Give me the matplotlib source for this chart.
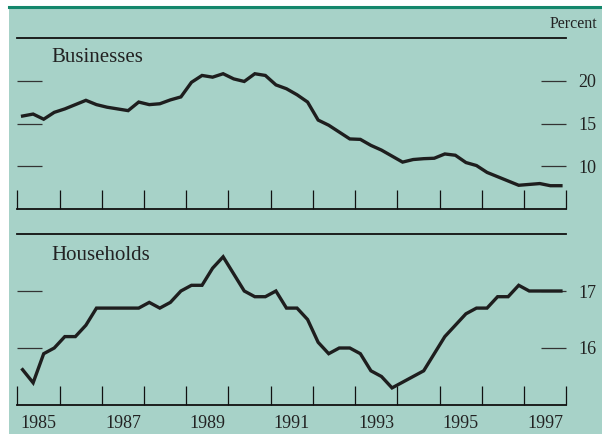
import matplotlib
matplotlib.use('Agg')
import matplotlib.pyplot as plt
from matplotlib.patches import Rectangle
from matplotlib.lines import Line2D
import numpy as np

# quarterly observations, 1985:Q1 - 1997:Q4 (plotted at mid-quarter)
quarters = np.arange(1985, 1998, 0.25) + 0.125

businesses = [15.87, 16.1, 15.5, 16.3, 16.7, 17.2, 17.7, 17.2, 16.9, 16.7, 16.5, 17.5, 17.2,
              17.3, 17.75, 18.1, 19.8, 20.6, 20.4, 20.8, 20.2, 19.9, 20.8, 20.6, 19.5, 19.05,
              18.35, 17.5, 15.4, 14.8, 14.0, 13.2, 13.15, 12.45, 11.9, 11.2, 10.5, 10.8, 10.9,
              10.95, 11.45, 11.3, 10.45, 10.1, 9.3, 8.8, 8.3, 7.8, 7.9, 8.0, 7.75, 7.75]

households = [15.62, 15.39, 15.9, 16.0, 16.2, 16.2, 16.4, 16.7, 16.7, 16.7, 16.7, 16.7, 16.8,
              16.7, 16.8, 17.0, 17.1, 17.1, 17.4, 17.6, 17.3, 17.0, 16.9, 16.9, 17.0, 16.7,
              16.7, 16.5, 16.1, 15.9, 16.0, 16.0, 15.9, 15.6, 15.5, 15.3, 15.4, 15.5, 15.6,
              15.9, 16.2, 16.4, 16.6, 16.7, 16.7, 16.9, 16.9, 17.1, 17.0, 17.0, 17.0, 17.0]

year_ticks = list(range(1985, 1999))
year_labels = ['1985', '1987', '1989', '1991', '1993', '1995', '1997']
bus_ticks = [10, 15, 20]
hh_ticks = [16, 17]

plt.rcParams['font.family'] = ['Liberation Serif', 'DejaVu Serif']

W, H = 602, 434
bg = '#a7d2c8'
ink = '#222222'

fig = plt.figure(figsize=(W / 100, H / 100), dpi=100, facecolor=bg)

# white margins on the left and top, green rule at the top
fig.patches.append(Rectangle((0, 0), 9 / W, 1, transform=fig.transFigure,
                             facecolor='white', edgecolor='none', zorder=-1))
fig.patches.append(Rectangle((0, 1 - 6 / H), 1, 6 / H, transform=fig.transFigure,
                             facecolor='white', edgecolor='none', zorder=-1))
fig.lines.append(Line2D([9 / W, 1], [1 - 7 / H, 1 - 7 / H], transform=fig.transFigure,
                        color='#14876c', linewidth=2.2))


def make_panel(top, bottom, values, ylim, yticks, title, title_base, show_years):
    ax = fig.add_axes([17.3 / W, 1 - bottom / H, (566.2 - 17.3) / W, (bottom - top) / H])
    ax.set_facecolor('none')
    ax.plot(quarters, values, color='#1e1e1e', linewidth=2.4, solid_joinstyle='miter')
    ax.set_xlim(1985, 1998)
    ax.set_ylim(*ylim)
    for side in ['left', 'right']:
        ax.spines[side].set_visible(False)
    for side in ['top', 'bottom']:
        ax.spines[side].set_color('#111111')
        ax.spines[side].set_linewidth(1.3)
    ax.set_xticks(year_ticks)
    ax.set_xticklabels([])
    ax.tick_params(axis='x', which='major', direction='in', length=14, width=0.9,
                   color='#111111', top=False)
    if show_years:
        ax.set_xticks([int(y) + 0.5 for y in year_labels], minor=True)
        ax.set_xticklabels(year_labels, minor=True)
        ax.tick_params(axis='x', which='minor', length=0, pad=7, labelsize=13,
                       labelcolor=ink)
    ax.set_yticks(yticks)
    ax.tick_params(axis='y', direction='in', length=18, width=0.9, color='#333333',
                   left=True, right=True, labelleft=False, labelright=True,
                   labelsize=13, labelcolor=ink, pad=9)
    fig.text(51 / W, 1 - title_base / H, title, fontsize=15, color=ink, va='baseline')
    return ax


make_panel(37.7, 209.3, businesses, (5, 25), bus_ticks, 'Businesses', 62, False)
make_panel(234, 405, households, (15, 18), hh_ticks, 'Households', 260, True)

fig.text(597 / W, 1 - 24 / H, 'Percent', fontsize=11.5, color=ink, ha='right', va='center')

fig.savefig('out.png', dpi=100, facecolor=fig.get_facecolor())
